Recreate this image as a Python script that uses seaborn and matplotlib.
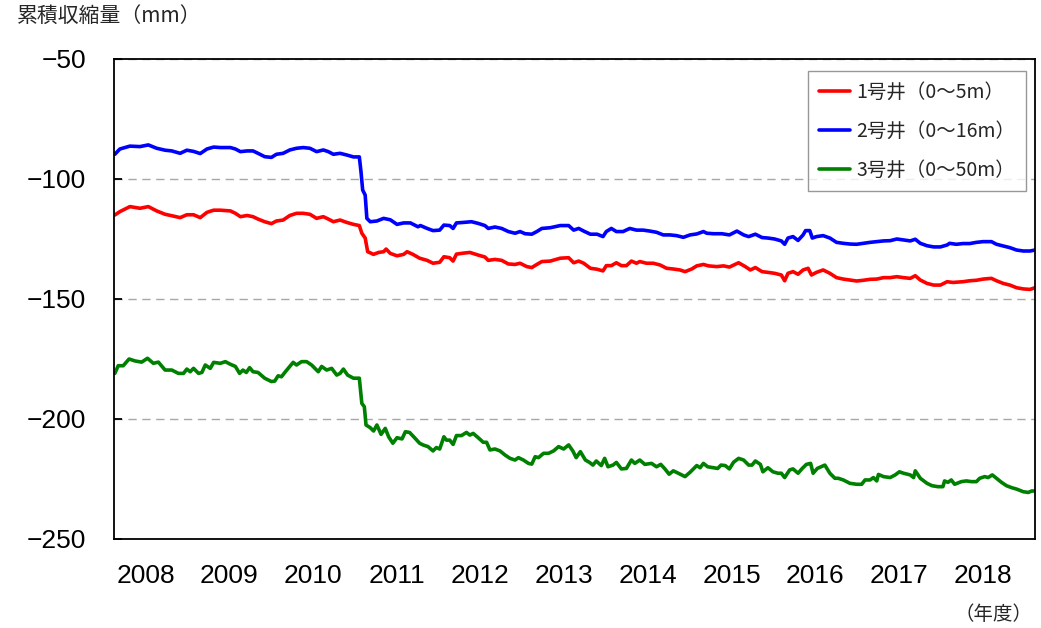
import numpy as np
import pandas as pd
import matplotlib
matplotlib.use("Agg")
import matplotlib.pyplot as plt
import seaborn as sns

# Fiscal-year labels on the time axis
years = ["2008", "2009", "2010", "2011", "2012", "2013",
         "2014", "2015", "2016", "2017", "2018"]

# Time in years elapsed since the start of FY2008, and cumulative compaction (mm)
t_w1 = [0.01, 0.07, 0.19, 0.31, 0.41, 0.51, 0.61, 0.69, 0.79, 0.87, 0.95, 1.03, 1.11, 1.19,
        1.27, 1.39, 1.45, 1.51, 1.59, 1.66, 1.72, 1.80, 1.88, 1.94, 2.02, 2.10, 2.18, 2.26,
        2.34, 2.42, 2.50, 2.56, 2.62, 2.70, 2.78, 2.86, 2.93, 2.96, 3.00, 3.03, 3.10, 3.16,
        3.22, 3.25, 3.30, 3.38, 3.46, 3.50, 3.57, 3.65, 3.74, 3.81, 3.89, 3.94, 4.01, 4.05,
        4.09, 4.17, 4.25, 4.35, 4.43, 4.47, 4.55, 4.63, 4.71, 4.79, 4.85, 4.93, 4.99, 5.05,
        5.11, 5.21, 5.33, 5.43, 5.49, 5.55, 5.61, 5.69, 5.77, 5.84, 5.88, 5.94, 6.00, 6.06,
        6.12, 6.18, 6.24, 6.28, 6.36, 6.44, 6.52, 6.60, 6.68, 6.76, 6.82, 6.90, 6.96, 7.04,
        7.10, 7.20, 7.28, 7.35, 7.46, 7.54, 7.60, 7.66, 7.74, 7.81, 7.89, 7.97, 8.01, 8.05,
        8.11, 8.17, 8.23, 8.29, 8.33, 8.39, 8.47, 8.55, 8.63, 8.71, 8.79, 8.87, 8.95, 9.03,
        9.11, 9.19, 9.27, 9.35, 9.43, 9.51, 9.57, 9.63, 9.71, 9.79, 9.87, 9.95, 10.02, 10.14,
        10.22, 10.30, 10.38, 10.48, 10.54, 10.62, 10.70, 10.78, 10.86, 10.94, 11.00]
v_w1 = [-115.0, -113.6, -111.5, -112.2, -111.5, -113.3, -114.7, -115.3, -116.1, -114.9,
        -114.9, -116.1, -113.9, -113.0, -113.0, -113.3, -114.3, -115.7, -115.2, -115.7,
        -116.7, -117.8, -118.6, -117.5, -117.1, -115.2, -114.3, -114.3, -114.7, -116.4,
        -115.7, -116.7, -117.8, -117.1, -118.1, -118.9, -119.4, -122.6, -124.6, -130.3,
        -131.4, -130.6, -130.3, -129.2, -131.0, -132.0, -131.4, -130.3, -131.4, -133.0,
        -133.9, -135.1, -134.7, -132.4, -132.8, -134.2, -131.3, -130.9, -130.6, -131.7,
        -132.5, -133.9, -133.5, -133.9, -135.4, -135.6, -135.1, -136.5, -136.9, -135.6,
        -134.4, -134.2, -133.0, -132.8, -134.9, -134.2, -135.1, -137.2, -137.6, -138.3,
        -136.1, -136.1, -134.9, -136.1, -136.1, -134.2, -135.1, -134.4, -135.1, -135.1,
        -135.8, -137.2, -137.5, -137.9, -138.6, -137.5, -136.2, -135.6, -136.2, -136.5,
        -136.2, -136.7, -134.9, -136.5, -137.9, -136.9, -138.6, -138.9, -139.3, -140.0,
        -142.4, -139.3, -138.6, -139.7, -137.9, -137.2, -140.0, -138.9, -137.9, -139.3,
        -141.1, -141.7, -142.1, -142.5, -142.2, -141.8, -141.7, -141.1, -141.1, -140.7,
        -141.1, -141.4, -140.3, -142.1, -143.5, -144.2, -144.2, -142.8, -143.1, -142.8,
        -142.4, -142.2, -141.7, -141.4, -142.4, -143.5, -144.2, -145.3, -145.8, -146.0,
        -145.3]

t_w2 = [0.01, 0.07, 0.19, 0.31, 0.41, 0.51, 0.61, 0.69, 0.79, 0.87, 0.95, 1.03, 1.11, 1.19,
        1.27, 1.39, 1.45, 1.51, 1.59, 1.66, 1.72, 1.80, 1.88, 1.94, 2.02, 2.10, 2.18, 2.26,
        2.34, 2.42, 2.50, 2.56, 2.62, 2.70, 2.78, 2.86, 2.93, 2.95, 2.97, 3.00, 3.02, 3.06,
        3.14, 3.22, 3.30, 3.38, 3.46, 3.54, 3.63, 3.66, 3.74, 3.81, 3.89, 3.94, 4.01, 4.05,
        4.09, 4.17, 4.27, 4.35, 4.43, 4.47, 4.55, 4.63, 4.71, 4.79, 4.85, 4.91, 4.99, 5.05,
        5.11, 5.21, 5.33, 5.43, 5.49, 5.55, 5.61, 5.69, 5.77, 5.84, 5.88, 5.94, 6.00, 6.08,
        6.16, 6.24, 6.32, 6.40, 6.48, 6.56, 6.64, 6.72, 6.80, 6.88, 6.96, 7.04, 7.08, 7.16,
        7.26, 7.35, 7.44, 7.52, 7.58, 7.66, 7.74, 7.81, 7.89, 7.97, 8.01, 8.05, 8.11, 8.17,
        8.23, 8.26, 8.31, 8.34, 8.39, 8.47, 8.55, 8.63, 8.71, 8.79, 8.87, 8.95, 9.03, 9.11,
        9.19, 9.27, 9.35, 9.43, 9.51, 9.57, 9.63, 9.71, 9.79, 9.87, 9.95, 9.98, 10.06, 10.14,
        10.22, 10.30, 10.38, 10.48, 10.54, 10.62, 10.70, 10.78, 10.86, 10.94, 11.00]
v_w2 = [-89.7, -87.5, -86.3, -86.5, -85.8, -87.2, -88.0, -88.3, -89.3, -88.0, -88.5, -89.4,
        -87.5, -86.7, -86.9, -86.9, -87.5, -88.6, -88.3, -88.3, -89.3, -90.7, -91.0, -89.7,
        -89.3, -87.9, -87.2, -86.9, -87.2, -88.6, -87.9, -88.6, -89.7, -89.3, -90.0, -90.8,
        -90.8, -97.0, -104.6, -106.7, -116.4, -117.8, -117.5, -116.4, -117.0, -118.9, -118.3,
        -118.3, -119.9, -119.4, -120.6, -121.5, -121.3, -119.2, -119.4, -120.6, -118.3,
        -118.1, -117.8, -118.5, -119.4, -120.6, -120.0, -120.6, -121.9, -122.6, -121.9,
        -122.8, -123.0, -121.9, -120.6, -120.3, -119.4, -119.4, -121.3, -120.6, -121.7,
        -123.0, -123.0, -124.0, -121.9, -120.6, -121.9, -121.9, -120.6, -121.3, -121.3,
        -121.7, -122.2, -123.3, -123.3, -123.6, -124.3, -123.3, -122.9, -121.9, -122.6,
        -122.8, -122.8, -123.3, -121.7, -123.3, -124.0, -123.0, -124.4, -124.6, -125.0,
        -125.8, -127.2, -124.6, -124.0, -125.6, -123.3, -121.5, -121.5, -124.6, -124.0,
        -123.6, -124.6, -126.4, -126.8, -127.1, -127.2, -126.8, -126.4, -126.1, -125.8,
        -125.7, -125.0, -125.4, -125.8, -125.1, -126.8, -127.8, -128.3, -128.3, -127.5,
        -126.8, -127.2, -126.9, -126.9, -126.4, -126.1, -126.1, -127.2, -127.9, -128.6,
        -129.6, -130.0, -130.0, -129.6]

t_w3 = [0.01, 0.05, 0.11, 0.18, 0.25, 0.33, 0.40, 0.47, 0.53, 0.61, 0.69, 0.77, 0.83, 0.87,
        0.91, 0.95, 1.01, 1.05, 1.09, 1.15, 1.19, 1.27, 1.33, 1.39, 1.45, 1.50, 1.54, 1.58,
        1.62, 1.66, 1.72, 1.80, 1.88, 1.92, 1.96, 2.00, 2.04, 2.10, 2.14, 2.18, 2.24, 2.30,
        2.36, 2.44, 2.48, 2.54, 2.60, 2.66, 2.70, 2.74, 2.79, 2.86, 2.93, 2.96, 2.99, 3.01,
        3.06, 3.10, 3.14, 3.19, 3.24, 3.28, 3.33, 3.38, 3.44, 3.48, 3.53, 3.59, 3.65, 3.69,
        3.75, 3.81, 3.85, 3.89, 3.94, 3.97, 4.01, 4.05, 4.09, 4.15, 4.21, 4.25, 4.29, 4.35,
        4.41, 4.45, 4.49, 4.55, 4.61, 4.67, 4.73, 4.79, 4.83, 4.89, 4.95, 4.99, 5.03, 5.07,
        5.13, 5.19, 5.25, 5.31, 5.37, 5.43, 5.48, 5.52, 5.57, 5.63, 5.68, 5.72, 5.76, 5.82,
        5.86, 5.90, 5.96, 6.00, 6.06, 6.12, 6.18, 6.22, 6.28, 6.34, 6.42, 6.48, 6.53, 6.58,
        6.63, 6.68, 6.74, 6.82, 6.88, 6.96, 7.00, 7.04, 7.09, 7.16, 7.21, 7.25, 7.30, 7.35,
        7.40, 7.46, 7.52, 7.58, 7.62, 7.66, 7.72, 7.75, 7.81, 7.87, 7.93, 7.97, 8.01, 8.07,
        8.11, 8.17, 8.22, 8.27, 8.32, 8.35, 8.40, 8.49, 8.55, 8.61, 8.65, 8.71, 8.79, 8.87,
        8.93, 8.97, 9.03, 9.07, 9.11, 9.13, 9.19, 9.27, 9.33, 9.38, 9.43, 9.51, 9.55, 9.57,
        9.63, 9.71, 9.77, 9.84, 9.90, 9.92, 9.96, 10.00, 10.04, 10.12, 10.18, 10.24, 10.30,
        10.34, 10.40, 10.44, 10.49, 10.54, 10.60, 10.66, 10.72, 10.78, 10.86, 10.92, 10.96,
        11.00]
v_w3 = [-181.0, -177.8, -177.8, -175.0, -175.8, -176.3, -174.7, -176.8, -176.3, -179.6,
        -179.6, -181.0, -181.0, -179.2, -180.3, -178.9, -181.0, -180.6, -177.5, -178.9,
        -176.4, -176.8, -176.1, -177.2, -178.1, -181.0, -179.6, -180.6, -178.6, -180.3,
        -180.6, -183.0, -184.4, -184.2, -182.0, -182.4, -180.6, -178.1, -176.4, -177.5,
        -176.1, -176.1, -177.5, -180.3, -178.1, -179.6, -178.9, -181.7, -181.0, -179.2,
        -181.7, -183.0, -183.0, -193.5, -194.9, -202.5, -203.6, -205.0, -202.5, -206.4,
        -203.9, -207.4, -210.1, -207.8, -208.3, -205.3, -205.6, -207.8, -210.1, -210.8,
        -211.5, -213.3, -211.9, -212.5, -207.4, -208.8, -208.8, -210.6, -206.9, -206.9,
        -205.6, -206.7, -206.0, -207.8, -209.7, -209.7, -212.9, -212.5, -213.3, -215.0,
        -216.4, -217.1, -216.1, -217.1, -218.5, -218.8, -215.7, -216.1, -214.3, -214.3,
        -213.3, -211.5, -212.5, -210.8, -213.3, -216.1, -213.6, -217.1, -218.1, -219.2,
        -217.5, -219.4, -216.4, -219.9, -219.2, -218.1, -220.8, -220.6, -217.1, -218.5,
        -217.1, -218.9, -218.5, -219.9, -218.9, -220.8, -223.0, -221.6, -222.6, -224.0,
        -222.2, -219.4, -220.3, -218.5, -219.9, -220.3, -220.6, -219.2, -219.4, -220.8,
        -218.0, -216.4, -217.1, -219.2, -219.2, -217.5, -218.9, -222.0, -220.3, -222.0,
        -222.6, -222.6, -224.4, -221.2, -220.8, -222.6, -220.6, -218.9, -218.5, -222.6,
        -220.6, -219.2, -222.6, -224.7, -224.7, -225.4, -226.8, -227.2, -227.2, -225.4,
        -225.4, -224.4, -225.8, -223.1, -224.0, -224.4, -223.3, -222.0, -222.6, -223.3,
        -224.4, -221.6, -224.7, -226.8, -227.8, -228.2, -228.2, -225.8, -226.4, -225.4,
        -227.2, -226.1, -225.8, -226.1, -226.1, -224.7, -224.0, -224.4, -223.3, -224.7,
        -226.4, -227.8, -228.6, -229.2, -230.3, -230.6, -230.0, -230.0]

wells = ["1号井（0～5m）", "2号井（0～16m）", "3号井（0～50m）"]
colors = ["#FF0000", "#0000FF", "#008000"]

df = pd.concat([
    pd.DataFrame({"t": t, "v": v, "well": name})
    for t, v, name in zip([t_w1, t_w2, t_w3], [v_w1, v_w2, v_w3], wells)
], ignore_index=True)

sns.set_theme(style="white")
plt.rcParams["font.family"] = ["Liberation Sans", "Noto Sans CJK JP", "DejaVu Sans"]
plt.rcParams["axes.unicode_minus"] = True

fig = plt.figure(figsize=(10.41, 6.28), dpi=100)
ax = fig.add_axes([114 / 1041, 1 - 539 / 628, 921 / 1041, 480 / 628])

sns.lineplot(data=df, x="t", y="v", hue="well", hue_order=wells, palette=colors,
             estimator=None, sort=False, linewidth=2.6, ax=ax)

ax.set_xlim(0, 11)
ax.set_ylim(-250, -50)
ax.set_yticks([-250, -200, -150, -100, -50])
ax.set_xticks(np.arange(len(years)) + 0.376)
ax.set_xticklabels(years)
ax.set_xlabel("")
ax.set_ylabel("")

ax.yaxis.grid(True, color="#A8A8A8", linewidth=1.0, linestyle=(0, (6, 4)))
ax.set_axisbelow(True)

for s in ax.spines.values():
    s.set_color("black")
    s.set_linewidth(1.3)

ax.tick_params(axis="y", direction="in", length=6, width=1.3, pad=20,
               labelsize=19, colors="black", left=True)
ax.tick_params(axis="x", length=0, pad=18, labelsize=19, colors="black")

leg = ax.legend(loc="upper right", bbox_to_anchor=(0.990, 0.975), borderaxespad=0,
                frameon=True, fancybox=False, edgecolor="#7F7F7F",
                handlelength=1.6, handletextpad=0.3, labelspacing=0.92, borderpad=0.55,
                prop={"family": ["Noto Sans CJK JP"], "size": 14})
leg.get_frame().set_linewidth(1.0)
for ln in leg.get_lines():
    ln.set_linewidth(2.6)

fig.text(17 / 1041, 1 - 16 / 628, "累積収縮量（mm）", ha="left", va="center",
         fontsize=15, family=["Noto Sans CJK JP"])
fig.text(1032 / 1041, 1 - 614 / 628, "（年度）", ha="right", va="center",
         fontsize=14, family=["Noto Sans CJK JP"])

fig.savefig("out.png", dpi=100, facecolor="white")
